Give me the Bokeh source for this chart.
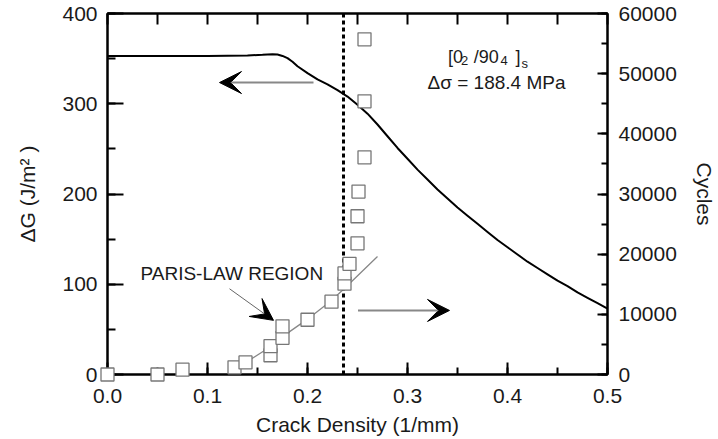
from bokeh.plotting import figure
from bokeh.models import (Range1d, LinearAxis, SingleIntervalTicker, PrintfTickFormatter,
                          Span, Label, Arrow, VeeHead)
from bokeh.embed import file_html
from bokeh.resources import INLINE

# ---- data ----
# Energy release rate curve (left axis, J/m^2)
curve_x = [0.0, 0.05, 0.10, 0.14, 0.155, 0.165, 0.17, 0.175, 0.18, 0.185, 0.19, 0.20,
           0.21, 0.22, 0.23, 0.24, 0.25, 0.26, 0.27, 0.28, 0.29, 0.30, 0.31, 0.32,
           0.33, 0.34, 0.35, 0.36, 0.37, 0.38, 0.39, 0.40, 0.41, 0.42, 0.43, 0.44,
           0.45, 0.46, 0.47, 0.48, 0.49, 0.50]
curve_g = [353, 353, 353, 353.5, 354.2, 354.8, 354.5, 353, 350.5, 346.5, 341.5, 334,
           327, 321.5, 315, 308, 299, 289, 277, 264, 251, 239, 227, 216,
           205, 195, 185, 176, 167, 158, 149, 141, 133, 125, 118, 111,
           104, 98, 91, 85, 79, 73]

# Experimental cycles vs crack density (right axis)
sq_x = [0.0, 0.05, 0.075, 0.127, 0.138, 0.163, 0.163, 0.175, 0.175, 0.20, 0.224,
        0.237, 0.237, 0.242, 0.25, 0.25, 0.251, 0.257, 0.257, 0.257]
sq_c = [0, 0, 800, 1200, 2000, 3200, 4700, 6100, 8000, 9100, 12100,
        15100, 16800, 18400, 21800, 26300, 30400, 36100, 45400, 55700]

# Paris-law fit line (right axis)
fit_x = [0.125, 0.138, 0.163, 0.175, 0.20, 0.224, 0.24, 0.27]
fit_c = [1000, 2000, 4600, 6300, 9200, 12300, 14800, 19600]

crit_density = 0.236

FONT = "Liberation Sans"
TXT = "#1a1a1a"

p = figure(width=718, height=439, output_backend="svg", toolbar_location=None,
           x_range=Range1d(0, 0.5), y_range=Range1d(0, 400),
           min_border_left=107, min_border_right=106, min_border_top=13, min_border_bottom=65)
p.extra_y_ranges = {"cyc": Range1d(0, 60000)}
p.xgrid.visible = False
p.ygrid.visible = False
p.outline_line_color = "black"
p.outline_line_width = 2
p.background_fill_color = "white"
p.border_fill_color = "white"

def style(ax, tin, minor_in):
    ax.axis_line_width = 2
    ax.axis_line_color = "black"
    ax.major_tick_in = tin
    ax.major_tick_out = 0
    ax.minor_tick_in = minor_in
    ax.minor_tick_out = 0
    ax.major_tick_line_width = 2
    ax.minor_tick_line_width = 2
    ax.major_label_text_font = FONT
    ax.major_label_text_font_size = "21px"
    ax.major_label_text_color = TXT
    ax.axis_label_text_font = FONT
    ax.axis_label_text_font_size = "21px"
    ax.axis_label_text_font_style = "normal"
    ax.axis_label_text_color = TXT

# bottom axis
xa = p.xaxis[0]
xa.ticker = SingleIntervalTicker(interval=0.1, num_minor_ticks=2)
xa.formatter = PrintfTickFormatter(format="%.1f")
style(xa, 12, 7)
xa.major_label_standoff = 14
xa.axis_label = "Crack Density (1/mm)"
xa.axis_label_standoff = 7

# left axis
ya = p.yaxis[0]
ya.ticker = SingleIntervalTicker(interval=100, num_minor_ticks=2)
ya.formatter = PrintfTickFormatter(format="%d")
style(ya, 16, 8)
ya.major_label_standoff = 10
ya.axis_label = "ΔG (J/m² )"
ya.axis_label_standoff = 20

# right axis
ra = LinearAxis(y_range_name="cyc",
                ticker=SingleIntervalTicker(interval=10000, num_minor_ticks=2),
                formatter=PrintfTickFormatter(format="%d"))
style(ra, 10, 6)
ra.major_label_standoff = 11
ra.axis_label = "Cycles"
ra.axis_label_standoff = 13
p.add_layout(ra, "right")

# top axis (ticks only, no labels drawn)
ta = LinearAxis(ticker=SingleIntervalTicker(interval=0.05, num_minor_ticks=0))
style(ta, 11, 0)
ta.major_label_text_color = None
ta.major_label_text_alpha = 0
ta.major_label_text_font_size = "1px"
ta.major_label_standoff = 0
p.add_layout(ta, "above")

# Paris-law fit line
p.line(fit_x, fit_c, y_range_name="cyc", line_color="#888888", line_width=1.3)

# energy curve
p.line(curve_x, curve_g, line_color="black", line_width=2)

# critical crack density
p.add_layout(Span(location=crit_density, dimension="height", line_color="black",
                  line_width=3, line_dash="4 3"))

# experimental squares
p.scatter(sq_x, sq_c, y_range_name="cyc", marker="square", size=13,
          line_color="#777777", line_width=1.3, fill_color="white", level="overlay")

# arrows
p.add_layout(Arrow(end=VeeHead(size=22, fill_color="black", line_color="black"),
                   x_start=0.206, y_start=323.5, x_end=0.112, y_end=323.5,
                   line_color="#888888", line_width=2))
p.add_layout(Arrow(end=VeeHead(size=22, fill_color="black", line_color="black"),
                   x_start=0.2505, y_start=71, x_end=0.342, y_end=71,
                   line_color="#888888", line_width=2))
p.add_layout(Arrow(end=VeeHead(size=22, fill_color="black", line_color="black"),
                   x_start=0.122, y_start=95, x_end=0.166, y_end=60,
                   line_color="#666666", line_width=1))

# labels
def lab(x, y, t, size, align="left", base="alphabetic"):
    p.add_layout(Label(x=x, y=y, text=t, text_font=FONT, text_font_size=size,
                       text_color=TXT, text_align=align, text_baseline=base))

lab(0.3406, 352, "[0", "18px")
lab(0.3535, 347.5, "2", "13px")
lab(0.3663, 352, "/90", "18px")
lab(0.3930, 347.5, "4", "13px")
lab(0.4080, 352, "]", "18px")
lab(0.4140, 345, "s", "13px")
lab(0.389, 323.5, "Δσ = 188.4 MPa", "19px", "center", "middle")
lab(0.1243, 112, "PARIS-LAW REGION", "19px", "center", "middle")

open("out.html", "w").write(file_html(p, INLINE))
